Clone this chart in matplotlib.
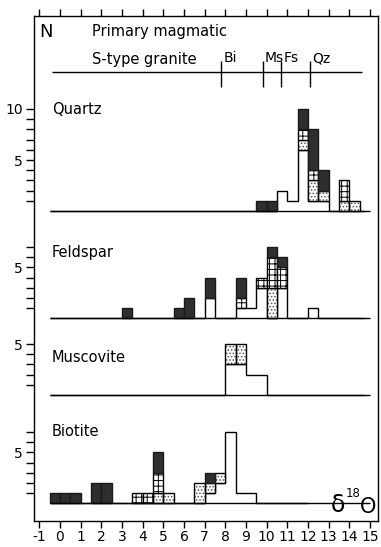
import numpy as np
import matplotlib
matplotlib.use("Agg")
import matplotlib.pyplot as plt

plt.rcParams['font.family'] = ['DejaVu Sans']
plt.rcParams['hatch.linewidth'] = 0.7

# bin width 0.5 permil, left edges and stacked counts (open, stippled, grid, dark)
quartz_x    = [9.5, 10.0, 10.5, 11.0, 11.5, 12.0, 12.5, 13.5, 14.0]
quartz_open = [0, 0, 2, 1, 6, 1, 1, 0, 0]
quartz_stip = [0, 0, 0, 0, 1, 2, 1, 1, 1]
quartz_grid = [0, 0, 0, 0, 1, 1, 0, 2, 0]
quartz_dark = [1, 1, 0, 0, 2, 4, 2, 0, 0]

feld_x    = [3.0, 5.5, 6.0, 7.0, 8.5, 9.0, 9.5, 10.0, 10.5, 12.0]
feld_open = [0, 0, 0, 2, 1, 1, 3, 0, 3, 1]
feld_stip = [0, 0, 0, 0, 0, 0, 0, 3, 0, 0]
feld_grid = [0, 0, 0, 0, 1, 0, 1, 3, 2, 0]
feld_dark = [1, 1, 2, 2, 2, 0, 0, 1, 1, 0]

musc_x    = [8.0, 8.5, 9.0, 9.5]
musc_open = [3, 3, 2, 2]
musc_stip = [2, 2, 0, 0]
musc_grid = [0, 0, 0, 0]
musc_dark = [0, 0, 0, 0]

bio_x    = [-0.5, 0.0, 0.5, 1.5, 2.0, 3.5, 4.0, 4.5, 5.0, 6.5, 7.0, 7.5, 8.0, 8.5, 9.0]
bio_open = [0, 0, 0, 0, 0, 0, 0, 0, 0, 0, 1, 2, 7, 1, 1]
bio_stip = [0, 0, 0, 0, 0, 0, 0, 1, 1, 2, 1, 1, 0, 0, 0]
bio_grid = [0, 0, 0, 0, 0, 1, 1, 2, 0, 0, 0, 0, 0, 0, 0]
bio_dark = [1, 1, 1, 2, 2, 0, 0, 2, 0, 0, 1, 0, 0, 0, 0]

# primary magmatic S-type granite values
mark_vals = [7.8, 9.8, 10.7, 12.1]
mark_labels = ['Bi', 'Ms', 'Fs', 'Qz']

xticks = list(range(-1, 16))
width = 0.5

W, H = 381, 547
fig = plt.figure(figsize=(W / 100, H / 100), dpi=100)
fig.patch.set_facecolor('white')


def box(left, top, right, bottom):
    return [left / W, 1 - bottom / H, (right - left) / W, (bottom - top) / H]


XL, XR = -1.256, 15.386
FT, FB = 16, 520.5

frame = fig.add_axes(box(34, FT, 378, FB))
frame.set_xlim(XL, XR)
frame.set_ylim(0, 1)
frame.set_xticks(xticks)
frame.set_xticklabels([str(t) for t in xticks])
frame.set_yticks([])
frame.tick_params(axis='x', direction='out', length=5, width=1, top=True,
                  labeltop=False, labelsize=10, pad=2)
for s in frame.spines.values():
    s.set_linewidth(1)


def yf(py):
    return (FB - py) / (FB - FT)


# header
frame.hlines(yf(71.7), -0.4, 14.6, color='k', lw=1)
frame.vlines(mark_vals, yf(87), yf(61), color='k', lw=1)
for v, lab in zip(mark_vals, mark_labels):
    frame.text(v + 0.12, yf(62), lab, fontsize=10, va='baseline', ha='left')
fig.text(39 / W, 1 - 37 / H, 'N', fontsize=13, va='baseline')
fig.text(92 / W, 1 - 36 / H, 'Primary magmatic', fontsize=10.5, va='baseline')
fig.text(92 / W, 1 - 64 / H, 'S-type granite', fontsize=10.5, va='baseline')

unit = 10.2
edges = np.arange(-0.5, 15.01, 0.5)

panels = [
    ('Quartz', 211.0, 10, [5, 10], 14.7, quartz_x, quartz_open, quartz_stip, quartz_grid, quartz_dark, 110),
    ('Feldspar', 318.3, 7, [5], 14.7, feld_x, feld_open, feld_stip, feld_grid, feld_dark, 252),
    ('Muscovite', 395.0, 5, [5], 14.7, musc_x, musc_open, musc_stip, musc_grid, musc_dark, 358),
    ('Biotite', 503.3, 7, [5], 12.0, bio_x, bio_open, bio_stip, bio_grid, bio_dark, 432),
]

for name, base, ymax, labelled, xend, x, op, st, gr, dk, ty in panels:
    top = ymax + 0.6
    ax = fig.add_axes(box(34, base - top * unit, 378, base + 0.5 * unit))
    ax.set_xlim(XL, XR)
    ax.set_ylim(-0.5, top)
    ax.patch.set_visible(False)
    for s in ax.spines.values():
        s.set_visible(False)
    ax.set_xticks([])
    yt = list(range(1, ymax + 1))
    ax.set_yticks(yt)
    ax.set_yticklabels([str(t) if t in labelled else '' for t in yt])
    ax.tick_params(axis='y', direction='out', length=6, width=1, labelsize=10, pad=2)

    ax.hlines(0, -0.5, xend, color='k', lw=1)

    xc = np.array(x) + width / 2
    op = np.array(op, float)
    st = np.array(st, float)
    gr = np.array(gr, float)
    dk = np.array(dk, float)

    # open part drawn as one stepped outline
    vals = np.zeros(len(edges) - 1)
    idx = np.round((np.array(x) - edges[0]) / width).astype(int)
    vals[idx] = op
    ax.stairs(vals, edges, baseline=0, fill=False, color='k', lw=1)

    m = st > 0
    ax.bar(xc[m], st[m], width, bottom=op[m], facecolor='white', edgecolor='#555555',
           hatch='.....', lw=0)
    ax.bar(xc[m], st[m], width, bottom=op[m], facecolor='none', edgecolor='k', lw=1)
    m = gr > 0
    ax.bar(xc[m], gr[m], width, bottom=(op + st)[m], facecolor='white', edgecolor='k',
           hatch='+++', lw=1)
    m = dk > 0
    ax.bar(xc[m], dk[m], width, bottom=(op + st + gr)[m], facecolor='#2e2e2e',
           edgecolor='#1a1a1a', lw=1)

    fig.text(52 / W, 1 - ty / H, name, fontsize=10.5, va='center')

# delta 18 O axis label
fig.text(331 / W, 1 - 512 / H, '\u03b4', fontsize=17, va='baseline')
fig.text(346 / W, 1 - 497 / H, '18', fontsize=8.5, va='baseline')
fig.text(360 / W, 1 - 513 / H, 'O', fontsize=15, va='baseline')

fig.savefig('out.png', dpi=100)
